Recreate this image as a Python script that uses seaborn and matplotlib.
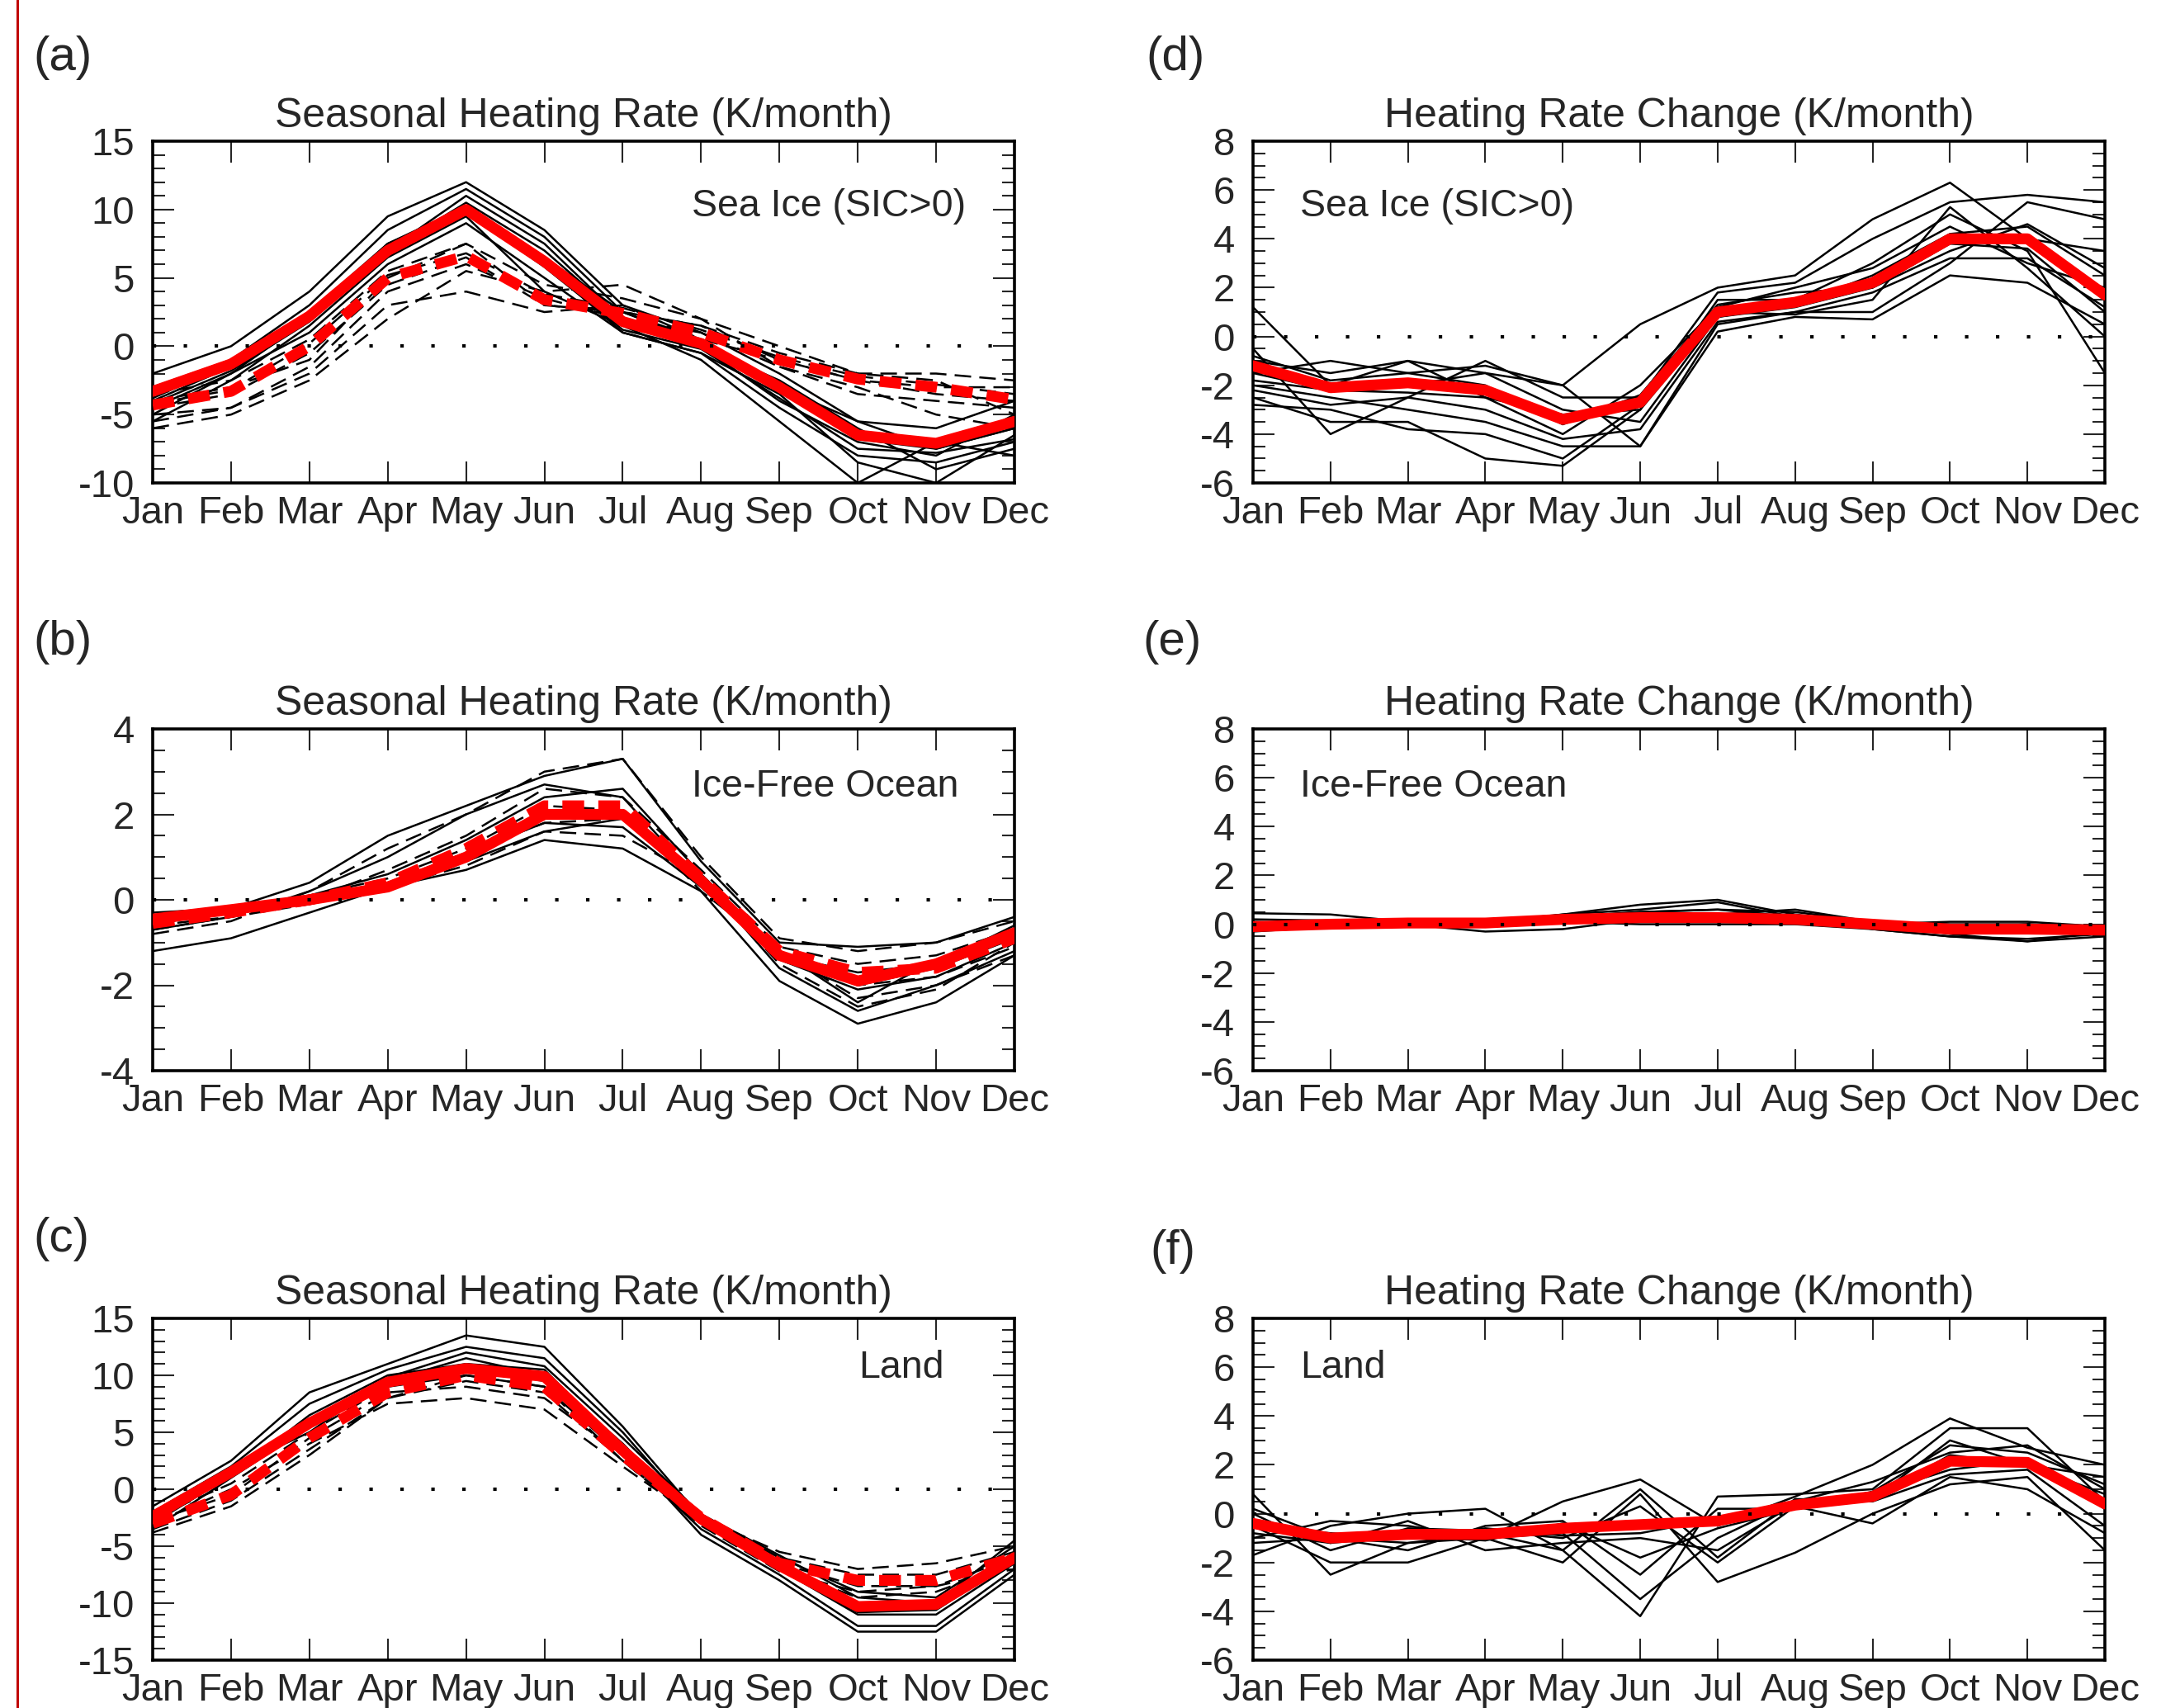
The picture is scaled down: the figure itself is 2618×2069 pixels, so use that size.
import numpy as np
import pandas as pd
import matplotlib
matplotlib.use('Agg')
import matplotlib.pyplot as plt
from matplotlib.lines import Line2D
from matplotlib.ticker import MultipleLocator
import seaborn as sns

# months on the x axis
months = ['Jan', 'Feb', 'Mar', 'Apr', 'May', 'Jun', 'Jul', 'Aug', 'Sep', 'Oct', 'Nov', 'Dec']
month_num = list(range(1, 13))

# (a) sea ice, seasonal heating rate
a_mean_solid = [-3.3, -1.3, 2.2, 7.0, 10.0, 6.2, 1.8, 0.2, -3.0, -6.5, -7.1, -5.5]
a_mean_dash = [-4.3, -3.3, 0.0, 5.0, 6.6, 3.4, 2.4, 1.0, -1.0, -2.4, -3.0, -3.9]
a_members_solid = [
    [-2.0, 0.0, 4.0, 9.5, 12.0, 8.5, 3.0, 1.0, -2.0, -5.5, -6.0, -4.0],
    [-3.0, -1.0, 3.0, 8.5, 11.5, 8.0, 2.5, 0.5, -3.0, -5.5, -7.5, -6.0],
    [-4.0, -1.5, 2.0, 7.0, 10.5, 7.0, 2.0, 0.0, -4.0, -7.0, -8.0, -5.0],
    [-5.0, -2.0, 1.0, 6.0, 9.0, 5.0, 1.0, -0.5, -4.5, -8.0, -8.5, -7.0],
    [-5.5, -2.5, 1.5, 6.5, 9.5, 4.0, 1.5, -1.0, -5.5, -10.0, -7.0, -8.0],
    [-3.5, -1.0, 2.5, 7.5, 10.0, 6.0, 1.0, -0.5, -3.5, -8.5, -10.0, -6.5],
    [-4.5, -2.0, 2.0, 7.0, 11.0, 7.5, 2.0, 0.0, -2.5, -6.0, -9.0, -7.5],
    [-3.8, -1.2, 2.3, 7.5, 10.2, 6.5, 2.5, 0.3, -3.2, -6.8, -7.5, -6.0],
    [-4.2, -1.8, 1.8, 6.8, 9.8, 5.8, 1.2, -0.2, -3.8, -7.5, -7.8, -6.8],
]
a_members_dash = [
    [-3.5, -2.5, 0.5, 5.5, 7.5, 4.5, 3.5, 2.0, 0.0, -2.0, -2.0, -2.5],
    [-4.5, -3.5, -0.5, 4.5, 6.5, 3.0, 2.5, 1.5, -1.0, -2.5, -3.5, -4.0],
    [-5.0, -4.5, -1.5, 4.0, 6.0, 3.5, 2.0, 1.0, -1.5, -3.0, -5.0, -6.0],
    [-5.5, -4.5, -2.0, 3.0, 4.0, 2.5, 3.0, 0.5, -1.0, -2.5, -3.0, -3.0],
    [-4.0, -3.0, -1.0, 5.0, 7.5, 3.0, 2.5, 1.5, -0.5, -2.0, -2.5, -5.0],
    [-6.0, -5.0, -2.5, 2.0, 5.5, 4.0, 4.5, 2.0, -1.5, -3.5, -4.0, -4.5],
    [-4.2, -3.2, 0.2, 5.2, 6.8, 3.8, 2.8, 1.2, -0.8, -2.2, -2.8, -3.5],
]

# (b) ice-free ocean, seasonal heating rate
b_mean_solid = [-0.45, -0.23, 0.0, 0.3, 1.0, 2.0, 2.0, 0.45, -1.3, -1.9, -1.5, -0.77]
b_mean_dash = [-0.55, -0.3, 0.0, 0.4, 1.2, 2.2, 2.2, 0.5, -1.2, -1.7, -1.6, -0.9]
b_members_solid = [
    [-1.2, -0.9, -0.3, 0.3, 0.7, 1.4, 1.2, 0.2, -1.9, -2.9, -2.4, -1.3],
    [-0.6, -0.2, 0.4, 1.5, 2.2, 2.9, 3.3, 0.9, -1.0, -1.1, -1.0, -0.4],
    [-0.3, -0.2, 0.0, 0.4, 1.1, 1.8, 1.7, 0.3, -1.4, -2.1, -1.8, -1.0],
    [-0.5, -0.3, 0.1, 0.6, 1.4, 2.4, 2.6, 0.6, -1.2, -2.4, -1.4, -0.8],
    [-0.4, -0.2, -0.1, 0.3, 0.9, 1.6, 1.9, 0.5, -1.6, -2.6, -2.0, -1.2],
    [-0.7, -0.4, 0.2, 1.0, 2.0, 2.7, 2.4, 0.4, -1.3, -1.7, -1.5, -0.6],
    [-0.5, -0.25, 0.0, 0.35, 1.0, 2.1, 2.1, 0.4, -1.35, -2.0, -1.6, -0.9],
]
b_members_dash = [
    [-0.8, -0.5, 0.2, 1.2, 2.0, 3.0, 3.3, 1.0, -0.9, -1.2, -1.0, -0.5],
    [-0.6, -0.4, 0.0, 0.7, 1.5, 2.6, 2.4, 0.7, -1.1, -1.5, -1.3, -0.7],
    [-0.4, -0.3, 0.0, 0.4, 1.1, 1.8, 1.9, 0.4, -1.3, -2.0, -1.8, -1.1],
    [-0.5, -0.2, 0.1, 0.5, 1.2, 2.2, 2.1, 0.2, -1.2, -2.3, -2.0, -1.3],
    [-0.7, -0.4, -0.1, 0.3, 0.8, 1.6, 1.5, 0.5, -1.5, -2.5, -2.1, -1.0],
]

# (c) land, seasonal heating rate
c_mean_solid = [-2.4, 1.5, 5.8, 9.4, 10.6, 9.9, 3.4, -2.6, -6.7, -10.3, -10.1, -6.0]
c_mean_dash = [-3.0, -0.5, 4.5, 8.5, 10.0, 9.0, 3.0, -2.5, -6.5, -8.0, -8.0, -6.0]
c_members_solid = [
    [-1.5, 2.5, 8.5, 11.0, 13.5, 12.5, 5.5, -2.5, -6.0, -9.0, -9.5, -5.0],
    [-2.0, 2.0, 7.5, 10.5, 12.5, 11.5, 5.0, -2.8, -6.5, -10.0, -10.5, -5.5],
    [-2.5, 1.5, 6.0, 9.5, 11.5, 10.0, 4.0, -3.0, -7.0, -11.0, -11.0, -6.5],
    [-3.5, 1.0, 5.5, 9.0, 10.0, 9.0, 3.0, -3.5, -7.5, -12.0, -12.0, -7.0],
    [-3.0, 1.2, 6.5, 10.0, 11.0, 10.5, 3.5, -4.0, -8.0, -12.5, -12.5, -7.5],
    [-2.2, 1.8, 5.0, 9.8, 12.0, 10.8, 4.5, -2.2, -5.8, -9.5, -10.0, -4.5],
    [-2.6, 1.4, 6.0, 9.6, 10.8, 10.2, 3.6, -2.8, -7.0, -10.8, -10.6, -6.2],
]
c_members_dash = [
    [-2.5, 0.5, 5.0, 9.0, 10.5, 9.5, 3.5, -2.5, -5.5, -7.0, -6.5, -5.0],
    [-3.5, -1.0, 3.5, 8.0, 9.5, 8.5, 2.5, -3.0, -6.5, -8.5, -8.5, -6.0],
    [-3.0, 0.0, 4.0, 7.5, 8.0, 7.0, 2.0, -2.8, -7.0, -9.5, -9.0, -6.5],
    [-2.8, -0.5, 4.5, 8.5, 9.0, 8.0, 3.0, -2.2, -6.0, -7.5, -7.5, -5.5],
    [-3.8, -1.5, 3.0, 8.0, 10.0, 9.0, 2.5, -3.2, -7.2, -9.0, -8.5, -7.0],
]

# (d) sea ice, heating rate change
d_mean = [-1.2, -2.1, -1.9, -2.2, -3.4, -2.7, 1.0, 1.4, 2.2, 4.0, 4.0, 1.7]
d_members = [
    [1.2, -2.0, -1.0, -1.5, -2.0, 0.5, 2.0, 2.5, 4.8, 6.3, 4.0, 3.5],
    [-0.5, -4.0, -2.5, -1.0, -2.5, -2.5, 1.8, 2.2, 4.0, 5.5, 5.8, 5.5],
    [-2.5, -3.5, -3.5, -5.0, -5.3, -3.0, 1.5, 1.5, 3.0, 5.0, 3.5, -1.5],
    [-1.5, -1.0, -1.5, -1.2, -2.0, -4.5, 0.5, 1.0, 1.0, 3.0, 5.5, 4.8],
    [-2.0, -2.5, -3.0, -3.5, -4.5, -4.5, 0.2, 0.8, 0.7, 2.5, 2.2, 0.5],
    [-1.0, -1.5, -1.0, -2.5, -4.0, -2.0, 1.2, 2.0, 2.8, 4.5, 3.0, 2.0],
    [-1.8, -2.2, -2.0, -1.5, -3.0, -3.5, 0.8, 1.2, 2.0, 3.5, 4.6, 2.8],
    [-2.8, -3.0, -3.8, -4.0, -5.0, -2.8, 1.0, 0.9, 1.5, 5.3, 2.8, 0.0],
    [-1.5, -2.2, -2.3, -2.5, -3.2, -3.0, 0.8, 1.3, 2.5, 4.2, 4.5, 2.5],
    [-0.8, -1.8, -1.5, -2.0, -3.6, -2.4, 1.3, 1.8, 2.0, 3.8, 3.6, 1.0],
    [-2.2, -2.8, -2.5, -3.0, -4.2, -3.8, 0.6, 1.0, 1.8, 3.2, 3.2, 1.2],
]

# (e) ice-free ocean, heating rate change
e_mean = [-0.1, 0.0, 0.05, 0.05, 0.2, 0.27, 0.27, 0.2, 0.0, -0.2, -0.2, -0.24]
e_members = [
    [0.45, 0.4, 0.1, 0.0, 0.4, 0.8, 1.0, 0.4, 0.0, 0.1, 0.1, -0.1],
    [-0.3, -0.1, 0.0, -0.3, -0.2, 0.2, 0.4, 0.6, 0.1, -0.4, -0.7, -0.5],
    [0.0, 0.1, 0.0, 0.1, 0.3, 0.5, 0.6, 0.3, -0.2, -0.5, -0.6, -0.4],
    [-0.2, -0.1, 0.1, 0.0, 0.2, 0.1, 0.1, 0.1, 0.0, -0.2, 0.0, -0.1],
    [0.1, 0.0, -0.1, 0.1, 0.4, 0.6, 0.9, 0.3, -0.1, -0.3, -0.2, -0.3],
    [-0.1, 0.0, 0.05, -0.1, 0.1, 0.0, 0.0, 0.0, -0.2, -0.5, -0.7, -0.3],
    [0.2, 0.15, 0.05, 0.0, 0.3, 0.5, 0.6, 0.5, 0.1, 0.0, 0.0, -0.2],
]

# (f) land, heating rate change
f_mean = [-0.4, -1.0, -0.85, -0.85, -0.6, -0.45, -0.3, 0.35, 0.7, 2.15, 2.1, 0.4]
f_members = [
    [0.8, -2.5, -1.2, -1.0, 0.5, 1.4, -0.5, 0.7, 2.0, 3.9, 2.7, 2.0],
    [-1.7, -0.5, 0.0, 0.2, -1.5, -4.2, 0.7, 0.8, 1.0, 3.5, 3.5, 0.5],
    [-0.5, -2.0, -2.0, -1.0, -2.0, 0.8, -2.8, -1.6, 0.0, 1.2, 1.5, -1.5],
    [-1.0, -0.3, -0.5, -1.0, -0.8, -3.5, -1.0, 0.5, 1.3, 2.5, 2.8, 1.0],
    [0.0, -1.5, -0.6, -0.7, -1.0, 0.3, -2.0, 0.3, -0.4, 1.5, 1.0, -0.8],
    [-1.2, -1.0, -1.5, -0.5, -0.3, -2.5, 0.2, 0.2, 0.6, 3.0, 2.0, 1.5],
    [-0.3, -1.2, -0.3, -1.5, -1.2, -1.0, -1.5, 0.4, 0.8, 1.8, 2.2, 0.2],
    [-0.5, -0.8, -1.0, -0.6, -0.9, -0.8, -0.2, 0.5, 0.6, 2.4, 2.0, 0.8],
    [-0.8, -1.2, -0.9, -1.1, -0.4, -1.8, -0.6, 0.2, 0.9, 2.8, 2.5, 1.2],
    [0.2, -1.0, -1.2, -0.8, -1.5, 1.0, -1.8, 0.6, 0.5, 1.6, 1.8, -0.5],
]

sns.set_style('white')
plt.rcParams['font.family'] = ['Liberation Sans', 'DejaVu Sans']
plt.rcParams['axes.linewidth'] = 2.6
plt.rcParams['axes.unicode_minus'] = False

W, H = 2618, 2069
fig = plt.figure(figsize=(W / 100, H / 100), dpi=100)


def make_axes(x0, x1, y0, y1):
    return fig.add_axes([x0 / W, 1 - y1 / H, (x1 - x0) / W, (y1 - y0) / H])


def long_table(members, kind):
    rows = []
    for i, vals in enumerate(members):
        for m, v in zip(month_num, vals):
            rows.append({'month': m, 'value': v, 'member': f'{kind}{i}', 'kind': kind})
    return pd.DataFrame(rows)


def draw_panel(ax, solid, dashed, mean_solid, mean_dash, ylim, major, minor, title, label, label_pos):
    parts = [long_table(solid, 'solid')]
    if dashed:
        parts.append(long_table(dashed, 'dash'))
    df = pd.concat(parts, ignore_index=True)
    sns.lineplot(data=df, x='month', y='value', units='member', estimator=None,
                 style='kind', dashes={'solid': '', 'dash': (8, 4)},
                 color='black', lw=1.8, legend=False, sort=False, ax=ax)
    sns.lineplot(x=month_num, y=mean_solid, color='red', lw=9.5, ax=ax, zorder=4)
    if mean_dash is not None:
        line = sns.lineplot(x=month_num, y=mean_dash, color='red', lw=9.5, ax=ax, zorder=4).lines[-1]
        line.set_dashes((2.0, 1.3))
    ax.axhline(0, color='black', lw=3.0, linestyle=(0, (1, 8)), zorder=5)

    ax.set_xlim(1, 12)
    ax.set_ylim(*ylim)
    ax.set_xticks(month_num)
    ax.set_xticklabels(months)
    ax.yaxis.set_major_locator(MultipleLocator(major))
    ax.yaxis.set_minor_locator(MultipleLocator(minor))
    ax.tick_params(axis='x', which='major', direction='in', length=19, width=1.5,
                   top=True, bottom=True, labelsize=34, pad=11)
    ax.tick_params(axis='y', which='major', direction='in', length=19, width=1.5,
                   left=True, right=True, labelsize=34, pad=16)
    ax.tick_params(axis='y', which='minor', direction='in', length=11, width=1.5,
                   left=True, right=True)
    ax.set_xlabel('')
    ax.set_ylabel('')
    for sp in ax.spines.values():
        sp.set_color('black')
    ax.set_title(title, fontsize=36, pad=12)
    ha, x, y = label_pos
    ax.text(x, y, label, transform=ax.transAxes, ha=ha, va='center', fontsize=33.5)


lx0, lx1 = 185, 1229
rx0, rx1 = 1518, 2550
rows_y = [(171, 585), (883, 1297), (1597, 2011)]

t_left = 'Seasonal Heating Rate (K/month)'
t_right = 'Heating Rate Change (K/month)'

ax_a = make_axes(lx0, lx1, *rows_y[0])
draw_panel(ax_a, a_members_solid, a_members_dash, a_mean_solid, a_mean_dash,
           (-10, 15), 5, 1, t_left, 'Sea Ice (SIC>0)', ('right', 0.944, 0.81))
ax_b = make_axes(lx0, lx1, *rows_y[1])
draw_panel(ax_b, b_members_solid, b_members_dash, b_mean_solid, b_mean_dash,
           (-4, 4), 2, 0.5, t_left, 'Ice-Free Ocean', ('right', 0.935, 0.83))
ax_c = make_axes(lx0, lx1, *rows_y[2])
draw_panel(ax_c, c_members_solid, c_members_dash, c_mean_solid, c_mean_dash,
           (-15, 15), 5, 1, t_left, 'Land', ('right', 0.918, 0.855))
ax_d = make_axes(rx0, rx1, *rows_y[0])
draw_panel(ax_d, d_members, None, d_mean, None,
           (-6, 8), 2, 0.5, t_right, 'Sea Ice (SIC>0)', ('left', 0.055, 0.81))
ax_e = make_axes(rx0, rx1, *rows_y[1])
draw_panel(ax_e, e_members, None, e_mean, None,
           (-6, 8), 2, 0.5, t_right, 'Ice-Free Ocean', ('left', 0.055, 0.83))
ax_f = make_axes(rx0, rx1, *rows_y[2])
draw_panel(ax_f, f_members, None, f_mean, None,
           (-6, 8), 2, 0.5, t_right, 'Land', ('left', 0.055, 0.855))

# panel letters
for lab, x, y in [('(a)', 40, 70), ('(b)', 40, 778), ('(c)', 40, 1501),
                  ('(d)', 1388, 70), ('(e)', 1384, 778), ('(f)', 1393, 1516)]:
    fig.text(x / W, 1 - y / H, lab, fontsize=42, ha='left', va='center')

# red rule along the left edge of the slide
fig.add_artist(Line2D([21 / W, 21 / W], [0, 1], color='#c00000', lw=2.2))

fig.savefig('out.png', dpi=100)
